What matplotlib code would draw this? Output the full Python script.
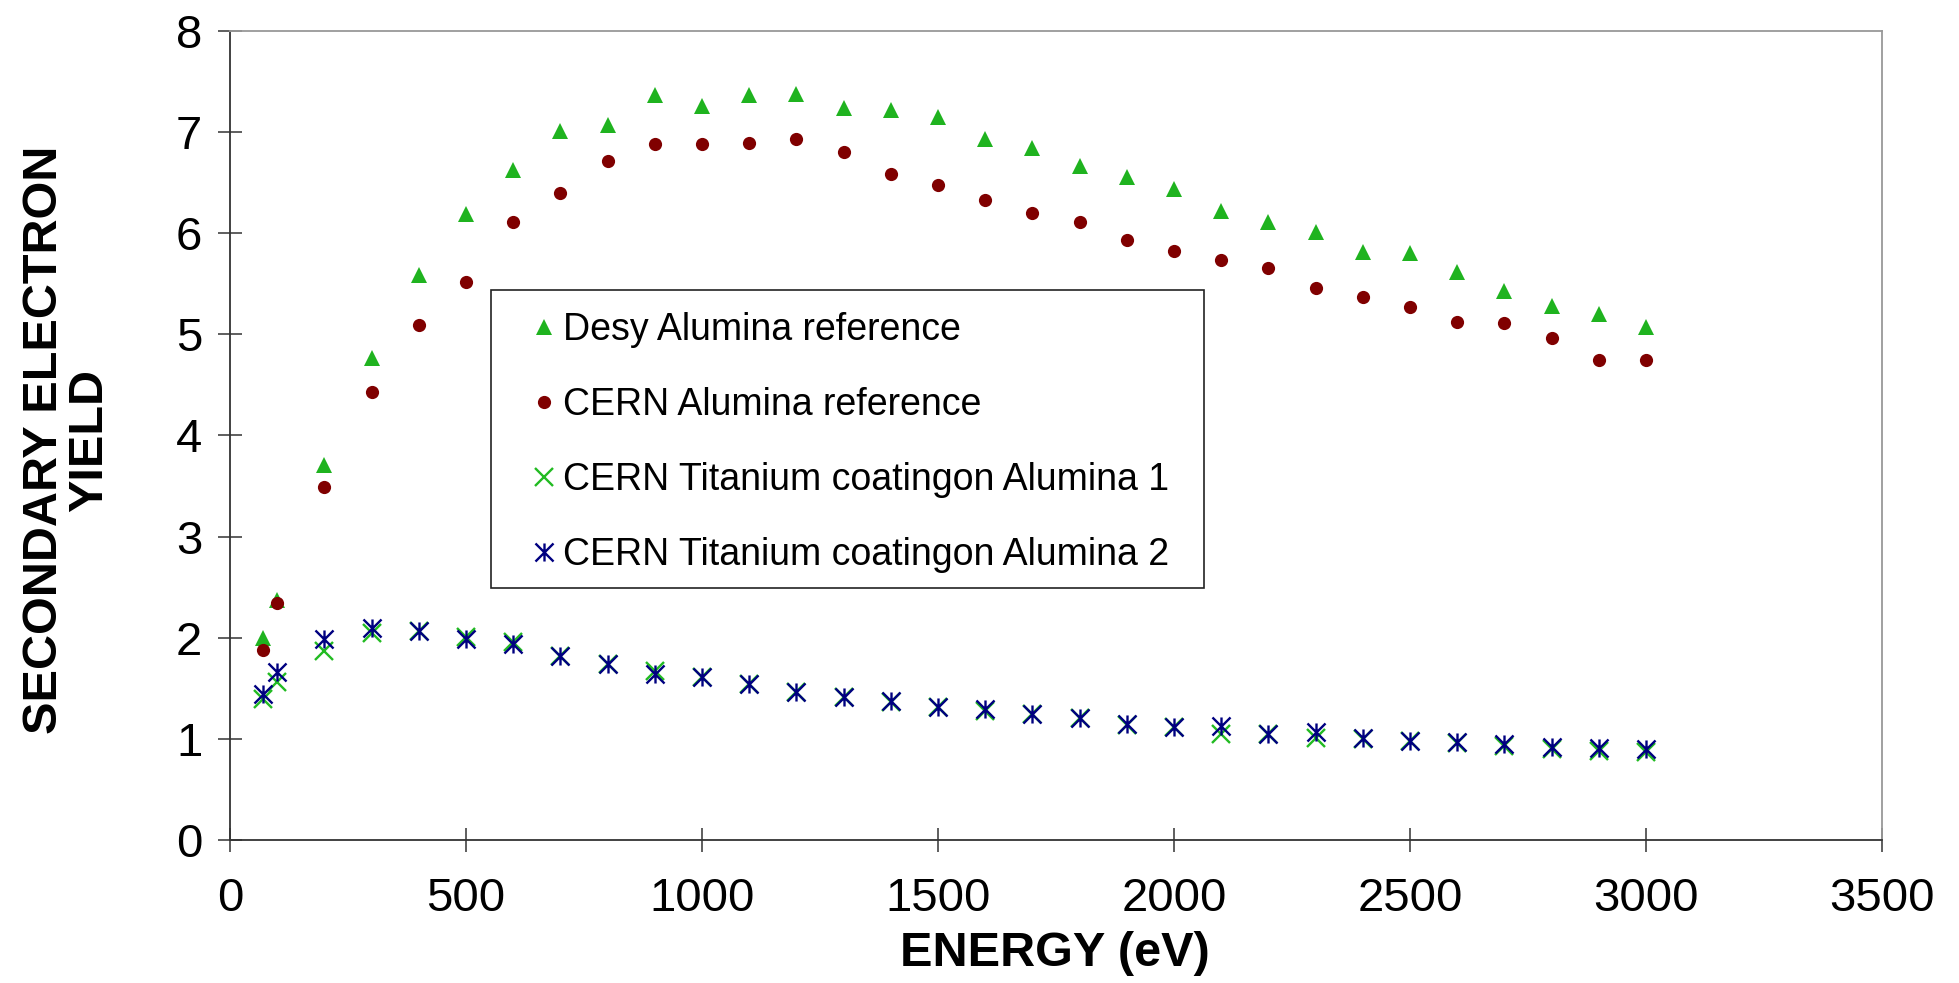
#!/usr/bin/env python3

import matplotlib
matplotlib.use('Agg')
import matplotlib.pyplot as plt
from matplotlib.path import Path
from matplotlib.patches import Rectangle

plt.rcParams['font.family'] = ['Liberation Sans', 'DejaVu Sans']

# energy (eV)
energy = [70, 100, 200, 300, 400, 500, 600, 700, 800, 900, 1000,
          1100, 1200, 1300, 1400, 1500, 1600, 1700, 1800, 1900, 2000,
          2100, 2200, 2300, 2400, 2500, 2600, 2700, 2800, 2900, 3000]

desy_ref = [2.00, 2.37, 3.71, 4.77, 5.59, 6.19, 6.63, 7.01, 7.07, 7.37, 7.26,
            7.37, 7.38, 7.24, 7.22, 7.15, 6.93, 6.84, 6.66, 6.56, 6.44,
            6.22, 6.11, 6.01, 5.81, 5.80, 5.62, 5.43, 5.28, 5.20, 5.07]

cern_ref = [1.88, 2.34, 3.49, 4.43, 5.09, 5.52, 6.11, 6.40, 6.71, 6.88, 6.88,
            6.89, 6.93, 6.80, 6.59, 6.48, 6.33, 6.20, 6.11, 5.93, 5.82,
            5.74, 5.66, 5.46, 5.37, 5.27, 5.12, 5.11, 4.96, 4.75, 4.75]

ti_1 = [1.39, 1.56, 1.87, 2.05, 2.07, 2.01, 1.96, 1.82, 1.74, 1.67, 1.61,
        1.54, 1.46, 1.41, 1.36, 1.31, 1.28, 1.25, 1.21, 1.14, 1.12,
        1.05, 1.05, 1.01, 1.00, 0.98, 0.96, 0.93, 0.90, 0.88, 0.87]

ti_2 = [1.44, 1.66, 1.99, 2.10, 2.07, 1.99, 1.94, 1.82, 1.74, 1.64, 1.61,
        1.54, 1.46, 1.41, 1.37, 1.31, 1.30, 1.25, 1.21, 1.15, 1.12,
        1.13, 1.05, 1.07, 1.01, 0.98, 0.97, 0.95, 0.92, 0.91, 0.90]

labels = ["Desy Alumina reference",
          "CERN Alumina reference",
          "CERN Titanium coatingon Alumina 1",
          "CERN Titanium coatingon Alumina 2"]

# excel style asterisk: an x with a vertical bar through it
star = Path([(-1, -1), (1, 1), (-1, 1), (1, -1), (0, -1), (0, 1)],
            [Path.MOVETO, Path.LINETO, Path.MOVETO, Path.LINETO,
             Path.MOVETO, Path.LINETO])

fig = plt.figure(figsize=(19.59, 9.83), dpi=100)
ax = fig.add_axes([0.1174, 0.1455, 0.8433, 0.823])

ax.plot(energy, desy_ref, linestyle='none', marker='^', ms=11.5, color='#1fb31f',
        markeredgewidth=0, label=labels[0])
ax.plot(energy, cern_ref, linestyle='none', marker='o', ms=9.5, color='#800000',
        markeredgewidth=0, label=labels[1])
ax.plot(energy, ti_1, linestyle='none', marker='x', ms=13, color='#22bb22',
        markeredgewidth=1.7, label=labels[2])
ax.plot(energy, ti_2, linestyle='none', marker=star, ms=13, color='#000080',
        markeredgewidth=1.7, label=labels[3])

ax.set_xlim(0, 3500)
ax.set_ylim(0, 8)
ax.set_xticks(range(0, 3501, 500))
ax.set_yticks(range(0, 9))
ax.tick_params(axis='both', direction='inout', length=17, width=1.1,
               labelsize=34, colors='#333333', labelcolor='black')
ax.tick_params(axis='x', pad=18.5)
ax.tick_params(axis='y', pad=11.5)

for side in ['left', 'bottom']:
    ax.spines[side].set_color('#333333')
    ax.spines[side].set_linewidth(1.3)
for side in ['top', 'right']:
    ax.spines[side].set_color('#999999')
    ax.spines[side].set_linewidth(1.3)

fig.text(1055 / 1959, 1 - 954 / 983, 'ENERGY (eV)', fontsize=35,
         fontweight='bold', ha='center', va='center')
fig.text(67 / 1959, 1 - 440 / 983, 'SECONDARY ELECTRON\nYIELD', fontsize=35,
         fontweight='bold', ha='center', va='center', rotation=90,
         linespacing=1.0, multialignment='center')

# legend box drawn by hand, the legend itself has no frame
ax.add_patch(Rectangle((0.158, 0.3115), 0.4316, 0.3684, transform=ax.transAxes,
                       fill=False, edgecolor='#222222', linewidth=1.2, zorder=5))
leg = ax.legend(loc='upper left', bbox_to_anchor=(0.181, 0.653), frameon=False,
                fontsize=27, borderpad=0, borderaxespad=0, handlelength=0.8,
                handletextpad=0.1, labelspacing=1.04)
leg.set_zorder(6)

plt.savefig('out.png', dpi=100)
